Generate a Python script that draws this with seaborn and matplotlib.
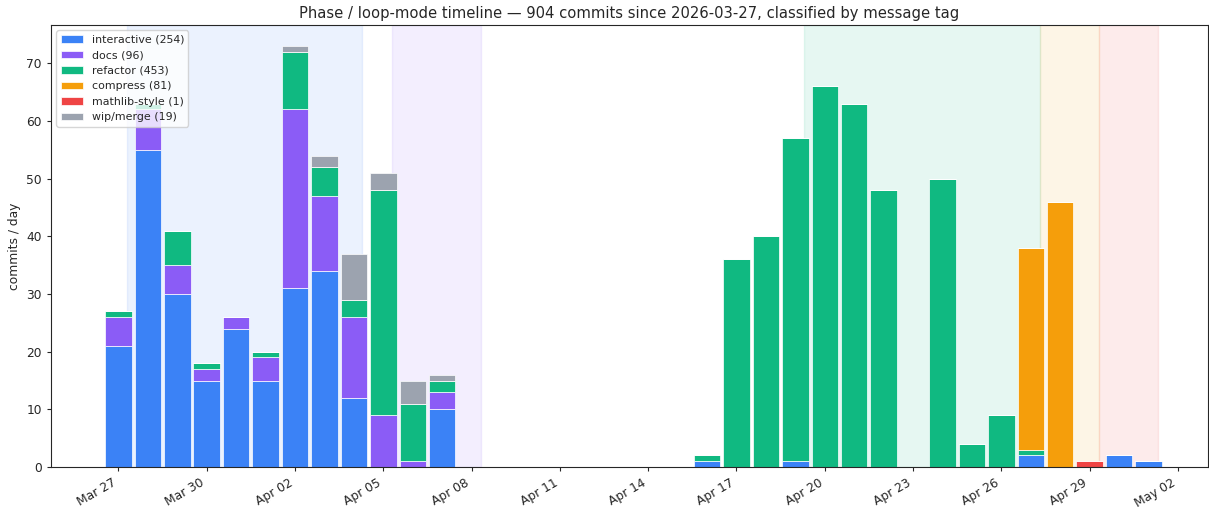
import pandas as pd
import matplotlib
matplotlib.use("Agg")
import matplotlib.pyplot as plt
import matplotlib.dates as mdates
import seaborn as sns

# dias com commits
days = pd.to_datetime([
    "2026-03-27", "2026-03-28", "2026-03-29", "2026-03-30", "2026-03-31", "2026-04-01",
    "2026-04-02", "2026-04-03", "2026-04-04", "2026-04-05", "2026-04-06", "2026-04-07",
    "2026-04-16", "2026-04-17", "2026-04-18", "2026-04-19", "2026-04-20", "2026-04-21",
    "2026-04-22", "2026-04-24", "2026-04-25", "2026-04-26", "2026-04-27", "2026-04-28",
    "2026-04-29", "2026-04-30", "2026-05-01",
])

interactive = [21, 55, 30, 15, 24, 15, 31, 34, 12, 0, 0, 10,
               1, 0, 0, 1, 0, 0, 0, 0, 0, 0, 2, 0, 0, 2, 1]
docs = [5, 7, 5, 2, 2, 4, 31, 13, 14, 9, 1, 3,
        0, 0, 0, 0, 0, 0, 0, 0, 0, 0, 0, 0, 0, 0, 0]
refactor = [1, 1, 6, 1, 0, 1, 10, 5, 3, 39, 10, 2,
            1, 36, 40, 56, 66, 63, 48, 50, 4, 9, 1, 0, 0, 0, 0]
compress = [0, 0, 0, 0, 0, 0, 0, 0, 0, 0, 0, 0,
            0, 0, 0, 0, 0, 0, 0, 0, 0, 0, 35, 46, 0, 0, 0]
mathlib = [0, 0, 0, 0, 0, 0, 0, 0, 0, 0, 0, 0,
           0, 0, 0, 0, 0, 0, 0, 0, 0, 0, 0, 0, 1, 0, 0]
wip = [0, 0, 0, 0, 0, 0, 1, 2, 8, 3, 4, 1,
       0, 0, 0, 0, 0, 0, 0, 0, 0, 0, 0, 0, 0, 0, 0]

tags = ["interactive", "docs", "refactor", "compress", "mathlib-style", "wip/merge"]
colors = ["#3b82f6", "#8b5cf6", "#10b981", "#f59e0b", "#ef4444", "#9ca3af"]

# fases (inicio, fim, tag)
phase_start = pd.to_datetime(["2026-03-27 07:00", "2026-04-05 07:00", "2026-04-19 07:00",
                              "2026-04-27 07:30", "2026-04-29 07:30"])
phase_end = pd.to_datetime(["2026-04-04 07:00", "2026-04-08 07:30", "2026-04-27 07:30",
                            "2026-04-29 07:30", "2026-05-01 07:30"])
phase_tag = ["interactive", "docs", "refactor", "compress", "mathlib-style"]

sns.set_style("ticks")
plt.rcParams["font.family"] = ["DejaVu Sans"]

df = pd.DataFrame({"day": days, "interactive": interactive, "docs": docs,
                   "refactor": refactor, "compress": compress,
                   "mathlib-style": mathlib, "wip/merge": wip})
palette = dict(zip(tags, colors))

fig = plt.figure(figsize=(12.09, 5.09), dpi=100)
ax = fig.add_axes([51 / 1209, 42 / 509, 1157 / 1209, 442 / 509])

for s, e, t in zip(phase_start, phase_end, phase_tag):
    ax.axvspan(s, e, color=palette[t], alpha=0.1, zorder=0)

bottom = pd.Series(0, index=df.index)
for t in tags:
    total = df[t].sum()
    ax.bar(df["day"], df[t], bottom=bottom, width=0.9, color=palette[t],
           edgecolor="white", linewidth=0.5, label=f"{t} ({total})", zorder=2)
    bottom = bottom + df[t]

ax.set_xlim(pd.Timestamp("2026-03-24 17:00"), pd.Timestamp("2026-05-03 00:30"))
ax.set_xticks(pd.date_range("2026-03-27", "2026-05-02", freq="3D"))
ax.xaxis.set_major_formatter(mdates.DateFormatter("%b %d"))
plt.setp(ax.get_xticklabels(), rotation=30, ha="right")
ax.tick_params(labelsize=8.8, length=3.2)

ax.set_ylabel("commits / day", fontsize=8.8)
ax.set_title("Phase / loop-mode timeline \u2014 904 commits since 2026-03-27, classified by message tag",
             fontsize=10.6, pad=5)
ax.legend(loc="upper left", fontsize=7.9)
for sp in ax.spines.values():
    sp.set_visible(True)
    sp.set_color("#262626")
    sp.set_linewidth(0.8)

fig.savefig("out.png", dpi=100)
